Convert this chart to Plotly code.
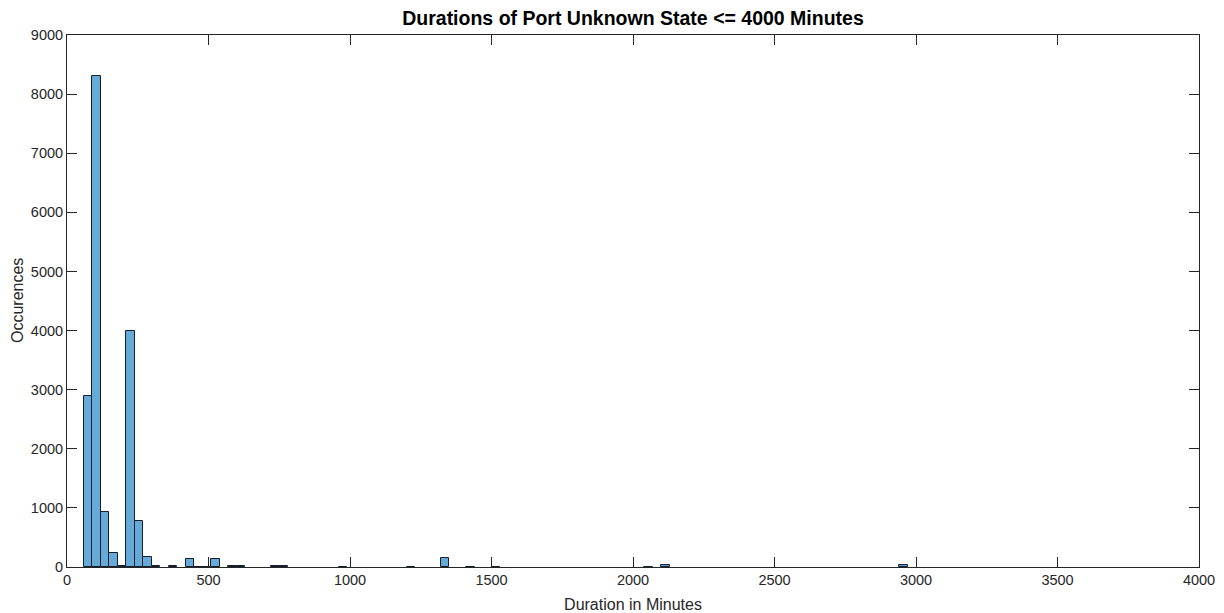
import plotly.graph_objects as go

bin_left = [60, 90, 120, 150, 180, 210, 240, 270, 300, 360, 420, 450, 480, 510,
            570, 600, 720, 750, 960, 1200, 1320, 1410, 1500, 2040, 2100, 2940]
counts = [2890, 8300, 930, 240, 15, 4000, 780, 175, 12, 10, 130, 8, 8, 135,
          15, 10, 12, 10, 8, 8, 150, 8, 8, 8, 40, 40]
bin_width = 30
x_ticks = [0, 500, 1000, 1500, 2000, 2500, 3000, 3500, 4000]
y_ticks = [0, 1000, 2000, 3000, 4000, 5000, 6000, 7000, 8000, 9000]

centers = [b + bin_width / 2 for b in bin_left]

axcol = "rgb(38,38,38)"
font = "Liberation Sans, Arial, Helvetica, sans-serif"

fig = go.Figure()
fig.add_trace(go.Bar(
    x=centers, y=counts, width=[bin_width] * len(centers),
    marker=dict(color="rgb(102,170,215)", line=dict(color="rgb(20,30,45)", width=1)),
    hoverinfo="x+y",
))

fig.update_layout(
    width=1224, height=613,
    margin=dict(l=67, r=25, t=35, b=46),
    paper_bgcolor="white", plot_bgcolor="white",
    showlegend=False, bargap=0,
    font=dict(family=font, size=14.5, color=axcol),
    title=dict(text="<b>Durations of Port Unknown State <= 4000 Minutes</b>",
               x=(67 + 1199) / 2 / 1224, xanchor="center", y=1 - 18 / 613, yanchor="middle",
               font=dict(family=font, size=19.5, color="black")),
    annotations=[dict(text="Occurences", textangle=-90, xref="paper", yref="paper",
                      x=(17 - 67) / 1132, y=0.5, xanchor="center", yanchor="middle",
                      showarrow=False, font=dict(size=16, color=axcol))],
)
fig.update_xaxes(
    range=[0, 4000], tickvals=x_ticks, ticktext=[str(v) for v in x_ticks],
    showgrid=False, zeroline=False, showline=True, linecolor=axcol, linewidth=1,
    mirror="ticks", ticks="inside", ticklen=10, tickcolor=axcol, tickwidth=1,
    title=dict(text="Duration in Minutes", font=dict(size=16)),
    tickfont=dict(size=14.5), automargin=False,
)
fig.update_yaxes(
    range=[0, 9000], tickvals=y_ticks, ticktext=[str(v) for v in y_ticks],
    showgrid=False, zeroline=False, showline=True, linecolor=axcol, linewidth=1,
    mirror="ticks", ticks="inside", ticklen=10, tickcolor=axcol, tickwidth=1,
    tickfont=dict(size=14.5), automargin=False,
)

fig.write_html("out.html", config={"displayModeBar": False})
